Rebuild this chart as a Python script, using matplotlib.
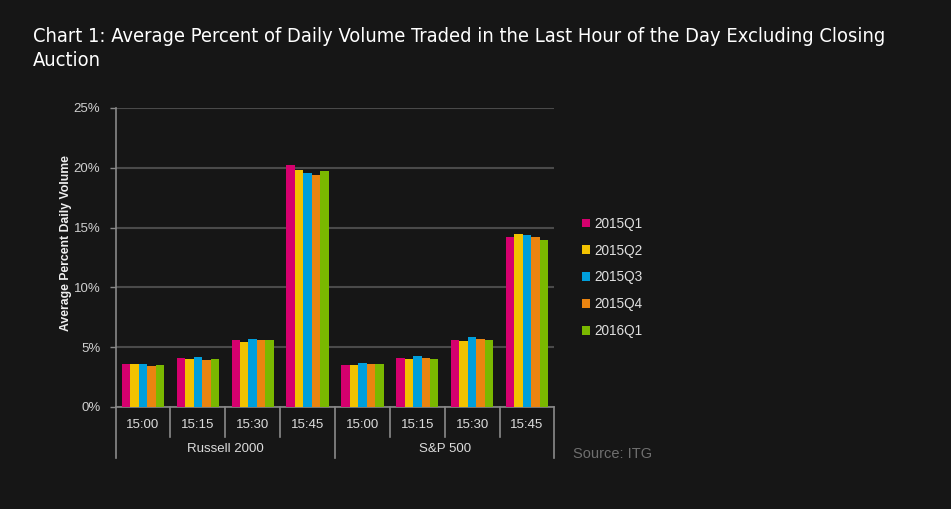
import matplotlib.pyplot as plt
from matplotlib.lines import Line2D
import matplotlib.transforms as mtransforms

# Data (percent of daily volume)
groups = ['Russell 2000', 'S&P 500']
times = ['15:00', '15:15', '15:30', '15:45']
quarters = ['2015Q1', '2015Q2', '2015Q3', '2015Q4', '2016Q1']
q2015_1 = [3.6, 4.1, 5.6, 20.2, 3.5, 4.1, 5.6, 14.2]
q2015_2 = [3.6, 4.0, 5.4, 19.8, 3.5, 4.0, 5.5, 14.5]
q2015_3 = [3.6, 4.2, 5.7, 19.6, 3.7, 4.3, 5.85, 14.4]
q2015_4 = [3.45, 3.95, 5.6, 19.4, 3.6, 4.1, 5.7, 14.2]
q2016_1 = [3.5, 4.0, 5.6, 19.7, 3.6, 4.0, 5.6, 14.0]
series = [q2015_1, q2015_2, q2015_3, q2015_4, q2016_1]
colors = ['#d5006e', '#f2c200', '#009fdc', '#ea8410', '#7ab800']

bg = '#161616'
plt.rcParams['font.family'] = ['Liberation Sans', 'DejaVu Sans']

fig = plt.figure(figsize=(9.51, 5.09), dpi=100, facecolor=bg)
ax = fig.add_axes([0.1215, 0.2004, 0.4615, 0.5876], facecolor=bg)

n_cat = len(groups) * len(times)
x = list(range(n_cat))
w = 0.154
for i, (vals, q) in enumerate(zip(series, quarters)):
    ax.bar([p + (i - 2) * w for p in x], vals, width=w, color=colors[i], label=q, zorder=3)

ax.set_xlim(-0.5, n_cat - 0.5)
ax.set_ylim(0, 25)
ax.set_yticks(range(0, 26, 5))
ax.set_yticklabels([f'{v}%' for v in range(0, 26, 5)])
ax.yaxis.grid(True, color='#4a4a4a', linewidth=1.5, zorder=0)
ax.tick_params(axis='y', colors='#888888', labelcolor='#cfcfcf', labelsize=9.5, length=4, width=1, pad=7)

ax.set_xticks(x)
ax.set_xticklabels(times * len(groups))
ax.tick_params(axis='x', length=0, labelcolor='#dcdcdc', labelsize=9.5, pad=9)

for side in ['top', 'right']:
    ax.spines[side].set_visible(False)
ax.spines['left'].set_color('#888888')
ax.spines['bottom'].set_color('#888888')
ax.spines['left'].set_linewidth(1.2)
ax.spines['bottom'].set_linewidth(1.2)

ax.set_ylabel('Average Percent Daily Volume', color='#eeeeee', fontsize=8.8, fontweight='bold')
ax.yaxis.set_label_coords(-0.1, 0.547)

# two-level category axis
trans = mtransforms.blended_transform_factory(ax.transData, ax.transAxes)
for b in range(n_cat + 1):
    major = b % len(times) == 0
    y_end = -0.17 if major else -0.1
    ax.add_line(Line2D([b - 0.5, b - 0.5], [0, y_end], transform=trans, color='#8a8a8a',
                       linewidth=1.2, clip_on=False))
for g, name in enumerate(groups):
    cx = g * len(times) + (len(times) - 1) / 2
    ax.text(cx, -0.14, name, transform=trans, ha='center', va='center', color='#dcdcdc', fontsize=9.5)

leg = ax.legend(loc='center left', bbox_to_anchor=(1.035, 0.433), frameon=False, handlelength=0.6,
                handleheight=0.6, handletextpad=0.3, labelspacing=0.95, fontsize=9.8, labelcolor='#e0e0e0')

fig.text(0.035, 0.946, 'Chart 1: Average Percent of Daily Volume Traded in the Last Hour of the Day Excluding Closing\nAuction',
         color='white', fontsize=14.4, va='top', ha='left', linespacing=1.3,
         family='DejaVu Sans', fontstretch='condensed')
fig.text(0.602, 0.108, 'Source: ITG', color='#6f6f6f', fontsize=10.5, ha='left', va='center')

fig.savefig('out.png', facecolor=bg)
